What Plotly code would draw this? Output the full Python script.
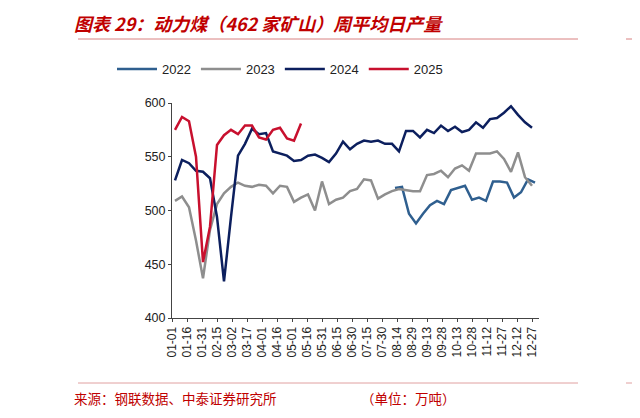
import plotly.graph_objects as go
import datetime as dt

tick_labels = ["01-01","01-16","01-31","02-15","03-02","03-17","04-01","04-16","05-01","05-16","05-31",
               "06-15","06-30","07-15","07-30","08-14","08-29","09-13","09-28","10-13","10-28","11-12",
               "11-27","12-12","12-27"]

v2022 = [521,522,497,488,497,505,509,506,519,521,523,510,512,509,527,527,526,512,517,529,526]
start2022 = 224
v2023 = [509,513,503,472,437,482,506,516,522,526,523,522,524,523,516,523,522,508,512,515,500,527,506,510,
         512,518,520,529,528,511,515,518,520,519,518,518,533,534,537,531,539,542,537,553,553,553,555,548,
         536,554,531,523]
start2023 = 4
v2024 = [528,547,544,537,536,530,494,434,494,551,562,576,571,572,555,553,551,546,547,551,552,549,545,553,
         564,557,562,565,564,565,562,562,555,574,574,568,575,572,579,574,578,573,575,582,577,585,586,591,
         597,589,582,577]
start2024 = 4
v2025 = [575,587,583,550,452,485,561,570,575,571,579,579,568,566,575,577,567,565,581]
start2025 = 4

def days(start, n):
    return [start + 7 * i for i in range(n)]

base = dt.date(2023, 1, 1)
tick_vals = [(dt.date(2023, int(t[:2]), int(t[3:])) - base).days + 1 for t in tick_labels]

series = [("2022", v2022, start2022, "#2F5F8F"),
          ("2023", v2023, start2023, "#8E8E8E"),
          ("2024", v2024, start2024, "#0C1F5E"),
          ("2025", v2025, start2025, "#C8102E")]

fig = go.Figure()
for name, vals, st, col in series:
    fig.add_trace(go.Scatter(x=days(st, len(vals)), y=vals, mode="lines", name=name,
                             line=dict(color=col, width=2.5)))

O = 8  # page body offset
L, T, PW, PH = 172 - O, 103 - O, 367, 215

def px(x):
    return (x - 172) / PW

def py(y):
    return (318 - y) / PH

fig.update_layout(
    width=640, height=418, paper_bgcolor="white", plot_bgcolor="white",
    margin=dict(l=L, r=640 - L - PW, t=T, b=418 - T - PH),
    font=dict(family="Liberation Sans, Arial", color="#222"),
    showlegend=True,
    legend=dict(orientation="h", x=px(280), xanchor="center", y=py(69), yanchor="middle",
                font=dict(size=13), itemwidth=40, tracegroupgap=0),
    xaxis=dict(range=[1, 368], tickvals=tick_vals, ticktext=tick_labels, tickangle=-90,
               showline=True, linecolor="#444", linewidth=1, ticks="outside", ticklen=3,
               tickcolor="#444", showgrid=False, zeroline=False, tickfont=dict(size=12)),
    yaxis=dict(range=[400, 600], tickvals=[400, 450, 500, 550, 600], showline=True,
               linecolor="#444", linewidth=1, ticks="outside", ticklen=3, tickcolor="#444",
               showgrid=False, zeroline=False, tickfont=dict(size=12.5)),
)

red = "#C00000"
def hline(x0, x1, y, color, w):
    return dict(type="line", xref="paper", yref="paper", x0=px(x0), x1=px(x1), y0=py(y), y1=py(y),
                line=dict(color=color, width=w))

shapes = [hline(78, 578, 6, red, 3.5), hline(78, 578, 39, "#D88080", 1), hline(78, 578, 383, "#E0A0A0", 1),
          hline(626, 640, 6, red, 3.5), hline(626, 640, 39, "#D88080", 1), hline(626, 640, 383, "#E0A0A0", 1)]
fig.update_layout(shapes=shapes)

fig.add_annotation(xref="paper", yref="paper", x=px(72), y=py(23), xanchor="left", yanchor="middle",
                   text="<b><i>图表 29：动力煤（462 家矿山）周平均日产量</i></b>", showarrow=False,
                   font=dict(family="Noto Sans CJK SC", size=18, color=red))
fig.add_annotation(xref="paper", yref="paper", x=px(72), y=py(398), xanchor="left", yanchor="middle",
                   text="来源：钢联数据、中泰证券研究所", showarrow=False,
                   font=dict(family="Noto Sans CJK SC", size=13.5, color=red))
fig.add_annotation(xref="paper", yref="paper", x=px(458), y=py(398), xanchor="right", yanchor="middle",
                   text="（单位：万吨）", showarrow=False,
                   font=dict(family="Noto Sans CJK SC", size=13.5, color=red))

fig.write_html("out.html")
